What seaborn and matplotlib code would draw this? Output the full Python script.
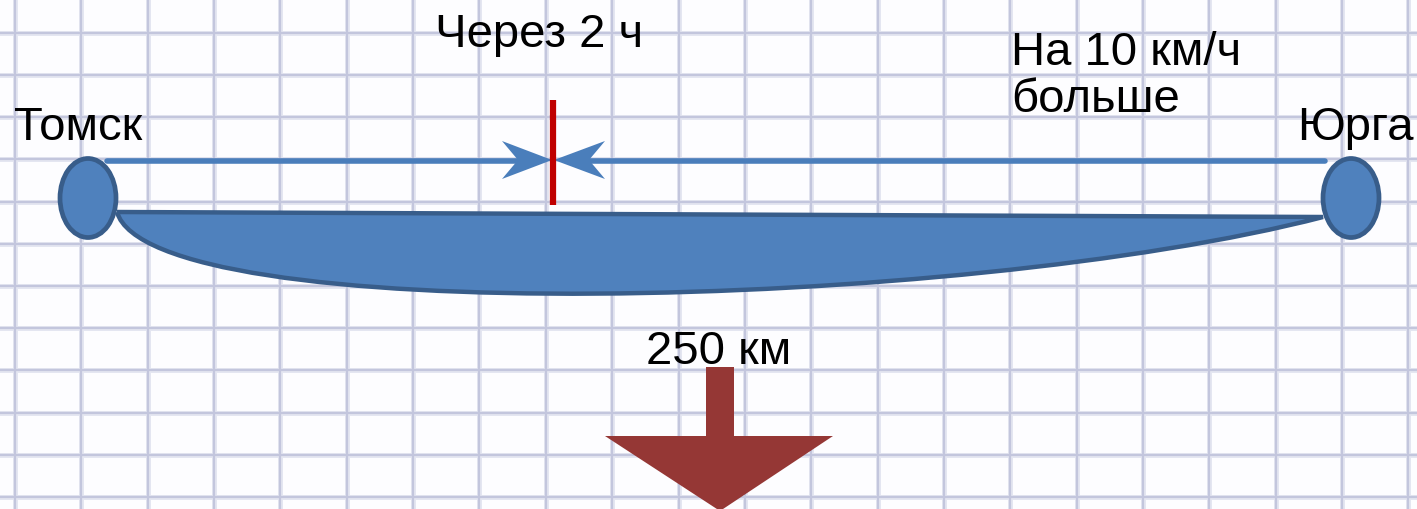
import numpy as np
import pandas as pd
import matplotlib
matplotlib.use("Agg")
import matplotlib.pyplot as plt
from matplotlib.patches import Ellipse, Polygon, PathPatch
from matplotlib.path import Path
import seaborn as sns

# ---- data (text content of the diagram) ----
cities = ["Томск", "Юрга"]
time_label = ["Через 2 ч"]
speed_label = ["На 10 км/ч", "больше"]
distance_label = ["250 км"]

sns.set_style("white")
plt.rcParams['font.family'] = ['Liberation Sans', 'DejaVu Sans']

W, H = 1417, 510
fig = plt.figure(figsize=(W / 100, H / 100), dpi=100)
ax = fig.add_axes([0, 0, 1, 1])
ax.set_xlim(0, W)
ax.set_ylim(H, 0)
ax.axis("off")
fig.patch.set_facecolor("#fdfdff")

# ---- squared notebook grid (soft, two layers) ----
for lw, col in ((3.6, "#e4e6f1"), (1.6, "#c3c6dd")):
    for gx in np.arange(15, W + 70, 66.35):
        ax.axvline(gx, color=col, lw=lw, zorder=0)
    for gy in np.arange(-8.4, H + 45, 42.2):
        ax.axhline(gy, color=col, lw=lw, zorder=0)

blue = "#4f81bd"
blue_dark = "#385d8a"
line_blue = "#4a7ebb"

# ---- road lens shape ----
verts = [(117, 213), (1323, 218),
         (960, 312), (150, 330), (117, 213)]
codes = [Path.MOVETO, Path.LINETO, Path.CURVE4, Path.CURVE4, Path.CURVE4]
lens = PathPatch(Path(verts, codes), facecolor=blue, edgecolor=blue_dark,
                 lw=3.2, zorder=2)
ax.add_patch(lens)

# ---- city ellipses ----
for cx in (88, 1351):
    ax.add_patch(Ellipse((cx, 199), 56, 79, facecolor=blue,
                         edgecolor=blue_dark, lw=3.4, zorder=3))

# ---- movement arrows ----
shafts = pd.DataFrame({
    "x": [107, 520, 588, 1325],
    "y": [162, 162, 162, 162],
    "seg": ["a", "a", "b", "b"],
})
sns.lineplot(data=shafts, x="x", y="y", units="seg", estimator=None,
             color=line_blue, lw=4.0, ax=ax, zorder=4, legend=False)
ax.add_patch(Polygon([(552, 161), (502, 142), (518, 161), (502, 180)],
                     closed=True, facecolor=line_blue, edgecolor="none", zorder=4))
ax.add_patch(Polygon([(554, 161), (605, 142), (589, 161), (605, 180)],
                     closed=True, facecolor=line_blue, edgecolor="none", zorder=4))

# meeting point mark
ax.plot([553, 553], [101, 206], color="#c00000", lw=4.5, zorder=5,
        solid_capstyle="butt")

# ---- big brown arrow ----
ax.add_patch(Polygon([(706, 368), (734, 368), (734, 437), (833, 437),
                      (720, 512), (605, 437), (706, 437)],
                     closed=True, facecolor="#953735", edgecolor="none", zorder=4))

# ---- text ----
fs = 34
kw = dict(fontsize=fs, color="black", va="baseline", ha="left", zorder=6)
ax.text(14, 140, cities[0], **kw)
ax.text(1297, 140, cities[1], **kw)
ax.text(435, 47, time_label[0], **kw)
ax.text(1011, 65, speed_label[0], **kw)
ax.text(1011, 112, speed_label[1], **kw)
ax.text(646, 364, distance_label[0], **kw)

fig.savefig("out.png", dpi=100, facecolor=fig.get_facecolor())
